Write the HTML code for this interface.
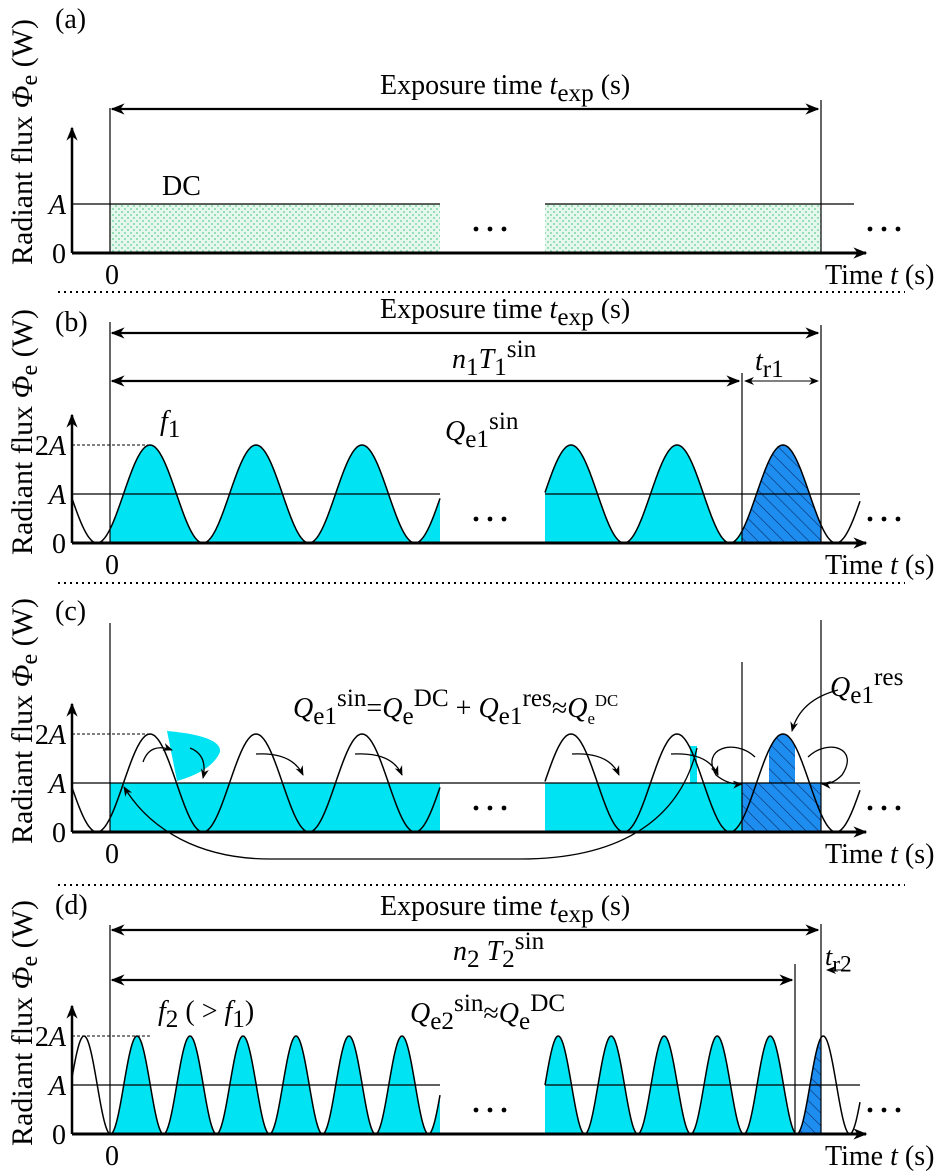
<!DOCTYPE html>
<html><head><meta charset="utf-8"><style>
html,body{margin:0;padding:0;background:#fff;}
svg, svg text, svg tspan{font-family:"Liberation Serif","Times New Roman",Times,"DejaVu Serif","Noto Serif CJK SC",serif;}
</style></head><body>
<svg id="fig" width="944" height="1171" viewBox="0 0 944 1171" xmlns="http://www.w3.org/2000/svg">
<defs>
<marker id="ahb" viewBox="0 0 10 10" refX="9" refY="5" markerWidth="22" markerHeight="14" orient="auto-start-reverse" markerUnits="userSpaceOnUse"><path d="M0,1 L10,5 L0,9 L3,5 Z" fill="#000"/></marker>
<marker id="ahs" viewBox="0 0 10 10" refX="9" refY="5" markerWidth="12" markerHeight="10" orient="auto-start-reverse" markerUnits="userSpaceOnUse"><path d="M0,1 L10,5 L0,9 L3,5 Z" fill="#000"/></marker>
<pattern id="dots" width="6" height="6" patternUnits="userSpaceOnUse"><rect width="6" height="6" fill="#e6f8ee"/><circle cx="2" cy="2" r="1" fill="#7fd6a6"/><circle cx="5" cy="5" r="1" fill="#7fd6a6"/></pattern>
<pattern id="hatch" width="9" height="9" patternUnits="userSpaceOnUse" patternTransform="rotate(-45)"><rect width="9" height="9" fill="#1d8ef0"/><line x1="0" y1="0" x2="0" y2="9" stroke="#0a2a66" stroke-width="1.2"/></pattern>
</defs>
<g id="root"></g>
</svg>
<script>
// data (in units of A and relative phase)
const levelValues = [0, 1, 2];
const levelLabels = ['0', 'A', '2A'];
const panelLetters = ['(a)', '(b)', '(c)', '(d)'];
const panelBase = [253, 543, 832, 1134];
const freqRatio = [0, 1, 1, 2];

const NS = 'http://www.w3.org/2000/svg';
const FONT = 'Liberation Serif, Times New Roman, Times, DejaVu Serif, serif';
const root = document.getElementById('root');
const AX = 72, T0 = 110, TEXP = 821, XEND = 866, APX = 49;
function el(tag, attrs, parent, text) {
  const e = document.createElementNS(NS, tag);
  for (const k in attrs) e.setAttribute(k, attrs[k]);
  if (tag === 'text') e.setAttribute('font-family', FONT);
  if (text !== undefined) e.textContent = text;
  (parent || root).appendChild(e);
  return e;
}
function yScale(base, v) { return base - v * APX; }
function sineY(base, xmin, P, x) { return yScale(base, 1 - Math.cos(2 * Math.PI * (x - xmin) / P)); }
function sinePts(base, xmin, P, xa, xb) {
  const pts = [];
  for (let x = xa; x <= xb + 0.01; x += 1) pts.push([x, sineY(base, xmin, P, Math.min(x, xb))]);
  return pts;
}
function ptsStr(p) { return p.map(q => q[0].toFixed(1) + ',' + q[1].toFixed(1)).join(' '); }
function fillUnder(base, xmin, P, xa, xb, fill, name) {
  const p = sinePts(base, xmin, P, xa, xb);
  const poly = el('polygon', { points: ptsStr(p) + ' ' + xb + ',' + base + ' ' + xa + ',' + base, fill: fill });
  
  
}
function curve(base, xmin, P, xa, xb, name) {
  const c = el('polyline', { points: ptsStr(sinePts(base, xmin, P, xa, xb)), fill: 'none', stroke: '#000', 'stroke-width': 1.5 });
  
  
}
function line(x1, y1, x2, y2, w, name, extra) {
  const a = Object.assign({ x1, y1, x2, y2, stroke: '#000', 'stroke-width': w }, extra || {});
  const l = el('line', a);
  
  
  return l;
}
function rich(x, y, parts, size, name) {
  const t = el('text', { x: x, y: y, 'font-size': size, fill: '#000' });
  
  
  let cur = 0;
  parts.forEach(pt => {
    const s = el('tspan', {}, t, pt[0]);
    const st = pt[1];
    let target = 0;
    if (st.includes('s')) target = size * 0.25;
    if (st.includes('p')) target = -size * 0.4;
    if (st.includes('i')) s.setAttribute('font-style', 'italic');
    if (st.includes('s') || st.includes('p')) s.setAttribute('font-size', size * (st.includes('m') ? 0.6 : 0.9));
    s.setAttribute('dy', target - cur);
    cur = target;
  });
  return t;
}

panelBase.forEach((base, i) => {
  const g = el('g', {});
  
  
  const yl = el('text', { x: 0, y: 0, 'font-size': 30, transform: `translate(32,${base + 12}) rotate(-90)` }, g);
  
  
  el('tspan', {}, yl, 'Radiant flux ');
  el('tspan', { 'font-style': 'italic' }, yl, 'Φ');
  el('tspan', { 'font-size': 24, dy: 5 }, yl, 'e');
  el('tspan', { dy: -5 }, yl, ' (W)');
  const pl = el('text', { x: 55, y: base - (i === 0 ? 225 : i === 3 ? 220 : 212), 'font-size': 28 }, g, panelLetters[i]);
  
  
  const P = 106 / freqRatio[i];
  const xmin1 = i === 3 ? 110.5 : 97;
  const xmin2 = i === 3 ? 531.75 : 518;
  const segEnd1 = 440, segStart2 = 545, segEnd2 = 860;
  const xr = i === 3 ? 795 : 742;

  if (i === 0) {
    const r1 = el('rect', { x: T0, y: yScale(base, 1), width: 440 - T0, height: APX, fill: 'url(#dots)' }, g);
     
    const r2 = el('rect', { x: 545, y: yScale(base, 1), width: TEXP - 545, height: APX, fill: 'url(#dots)' }, g);
     
    line(AX, yScale(base, 1), 440, yScale(base, 1), 1.2, 'dc-line-1');
    line(545, yScale(base, 1), 854, yScale(base, 1), 1.2, 'dc-line-2');
    rich(162, 195, [['DC', 'n']], 28, 'dc-label');
  } else if (i === 1 || i === 3) {
    fillUnder(base, xmin1, P, T0, segEnd1, '#00e3f2', 'sin-area-1');
    fillUnder(base, xmin2, P, segStart2, xr, '#00e3f2', 'sin-area-2');
    fillUnder(base, xmin2, P, xr, TEXP, 'url(#hatch)', 'residual-area');
  } else {
    const yA = yScale(base, 1);
    const r1 = el('rect', { x: T0, y: yA, width: 440 - T0, height: APX, fill: '#00e3f2' }, g);
     
    const r2 = el('rect', { x: 545, y: yA, width: xr - 545, height: APX, fill: '#00e3f2' }, g);
     
    const r3 = el('rect', { x: xr, y: yA, width: TEXP - xr, height: APX, fill: 'url(#hatch)' }, g);
     
    const cap = sinePts(base, xmin2, P, 769, 795);
    const cp = el('polygon', { points: ptsStr(cap) + ` 795,${yA} 769,${yA}`, fill: 'url(#hatch)' }, g);
     
    const bar = el('rect', { x: 690, y: 746, width: 7, height: yA - 746, fill: '#00e3f2' }, g);
     
    const wedge = el('path', { d: 'M167,731 Q222,736 220,752 Q212,771 177,781 Z', fill: '#00e3f2' }, g);
     
    line(AX, yA, 860, yA, 1.2, 'a-line');
    const arrows = ['M143,762 Q150,742 172,750', 'M190,748 Q208,755 203,778',
      'M256,754 Q292,752 303,775', 'M355,754 Q392,752 402,775',
      'M572,754 Q609,752 619,775', 'M671,754 Q708,752 718,775',
      'M755,757 C735,738 700,748 716,775 Q728,785 742,784',
      'M808,757 C828,738 860,748 842,775 Q832,785 822,784',
      'M838,690 Q800,700 792,731',
      'M697,748 C680,820 620,859 520,859 L270,859 C200,859 150,830 124,787'];
    arrows.forEach((d, k) => {
      const a = el('path', { d: d, fill: 'none', stroke: '#000', 'stroke-width': 1.3, 'marker-end': 'url(#ahs)' }, g);
      
      
    });
  }
  if (i > 0) {
    curve(base, xmin1, P, AX, segEnd1, 'sine-wave-1');
    curve(base, xmin2, P, segStart2, segEnd2, 'sine-wave-2');
    if (i !== 2) {
      line(AX, yScale(base, 1), 440, yScale(base, 1), 1.2, 'a-line-1');
      line(545, yScale(base, 1), 860, yScale(base, 1), 1.2, 'a-line-2');
    }
    line(AX, yScale(base, 2), 150, yScale(base, 2), 1, 'peak-dashed-line', { 'stroke-dasharray': '3,2' });
  }
  line(AX, base, XEND, base, 3, 'x-axis', { 'marker-end': 'url(#ahb)' });
  const ytop = i === 0 ? 128 : base - 128;
  line(AX, base, AX, ytop, 2.5, 'y-axis', { 'marker-end': 'url(#ahb)' });
  const nLev = i === 0 ? 2 : 3;
  for (let k = 0; k < nLev; k++) {
    const lab = levelLabels[k];
    const t = el('text', { x: 66, y: yScale(base, levelValues[k]) + 10, 'font-size': 28, 'text-anchor': 'end' }, g);
    
    
    if (lab === '2A') { el('tspan', {}, t, '2'); el('tspan', { 'font-style': 'italic' }, t, 'A'); }
    else if (lab === 'A') { el('tspan', { 'font-style': 'italic' }, t, 'A'); }
    else t.textContent = lab;
  }
  const z = el('text', { x: 112, y: base + 31, 'font-size': 28, 'text-anchor': 'middle' }, g, '0');
   
  rich(825, base + 31, [['Time ', 'n'], ['t', 'i'], [' (s)', 'n']], 28, 'x-axis-title');
  [[476, base - 24], [870, base - 24]].forEach((p) => {
    for (let j = 0; j < 3; j++) {
      const c = el('circle', { cx: p[0] + j * 14, cy: p[1], r: 2.4, fill: '#000' }, g);
      
      
    }
  });
  const vtop0 = [108, 322, 623, 925][i];
  line(T0, base, T0, vtop0, 1.2, 'start-marker');
  const vtopE = [100, 325, 620, 924][i];
  line(TEXP, base, TEXP, vtopE, 1.2, 'end-marker');
  if (i > 0) line(xr, base, xr, [0, 373, 662, 964][i], 1.2, 'period-end-marker');
  if (i !== 2) {
    const ey = [109, 333, 0, 930][i];
    line(T0 + 2, ey, TEXP - 3, ey, 2.2, 'exposure-arrow', { 'marker-end': 'url(#ahb)', 'marker-start': 'url(#ahb)' });
    rich(380, ey - 15, [['Exposure time ', 'n'], ['t', 'i'], ['exp', 's'], [' (s)', 'n']], 28, 'exposure-label');
  }
  if (i === 1) {
    line(T0 + 2, 381, xr - 3, 381, 2.2, 'period-arrow', { 'marker-end': 'url(#ahb)', 'marker-start': 'url(#ahb)' });
    line(xr + 3, 381, TEXP - 3, 381, 1, 'residual-time-arrow', { 'marker-end': 'url(#ahs)', 'marker-start': 'url(#ahs)' });
    rich(452, 368, [['n', 'i'], ['1', 's'], ['T', 'i'], ['1', 's'], ['sin', 'p']], 28, 'period-label');
    rich(755, 370, [['t', 'i'], ['r1', 's']], 28, 'residual-time-label');
    rich(160, 430, [['f', 'i'], ['1', 's']], 28, 'frequency-label');
    rich(445, 440, [['Q', 'i'], ['e1', 's'], ['sin', 'p']], 28, 'energy-label');
  }
  if (i === 2) {
    rich(293, 717, [['Q', 'i'], ['e1', 's'], ['sin', 'p'], ['=', 'n'], ['Q', 'i'], ['e', 's'], ['DC', 'p'], [' + ', 'n'], ['Q', 'i'], ['e1', 's'], ['res', 'p'], ['≈', 'n'], ['Q', 'i'], ['e', 'sm'], ['DC', 'pm']], 28, 'energy-equation');
    rich(830, 696, [['Q', 'i'], ['e1', 's'], ['res', 'p']], 28, 'residual-energy-label');
  }
  if (i === 3) {
    line(T0 + 2, 980, xr - 3, 980, 2.2, 'period-arrow', { 'marker-end': 'url(#ahb)', 'marker-start': 'url(#ahb)' });
    line(845, 970, 827, 970, 1, 'residual-time-arrow', { 'marker-end': 'url(#ahs)' });
    rich(453, 960, [['n', 'i'], ['2', 's'], [' T', 'i'], ['2', 's'], ['sin', 'p']], 28, 'period-label');
    rich(825, 965, [['t', 'i'], ['r2', 's']], 26, 'residual-time-label');
    rich(158, 1020, [['f', 'i'], ['2', 's'], [' ( > ', 'n'], ['f', 'i'], ['1', 's'], [')', 'n']], 28, 'frequency-label');
    rich(410, 1022, [['Q', 'i'], ['e2', 's'], ['sin', 'p'], ['≈', 'n'], ['Q', 'i'], ['e', 's'], ['DC', 'p']], 28, 'energy-label');
  }
});
[292, 583, 885].forEach(y => {
  line(58, y, 905, y, 2, 'panel-separator', { 'stroke-dasharray': '2,4' });
});
</script>
</body></html>
